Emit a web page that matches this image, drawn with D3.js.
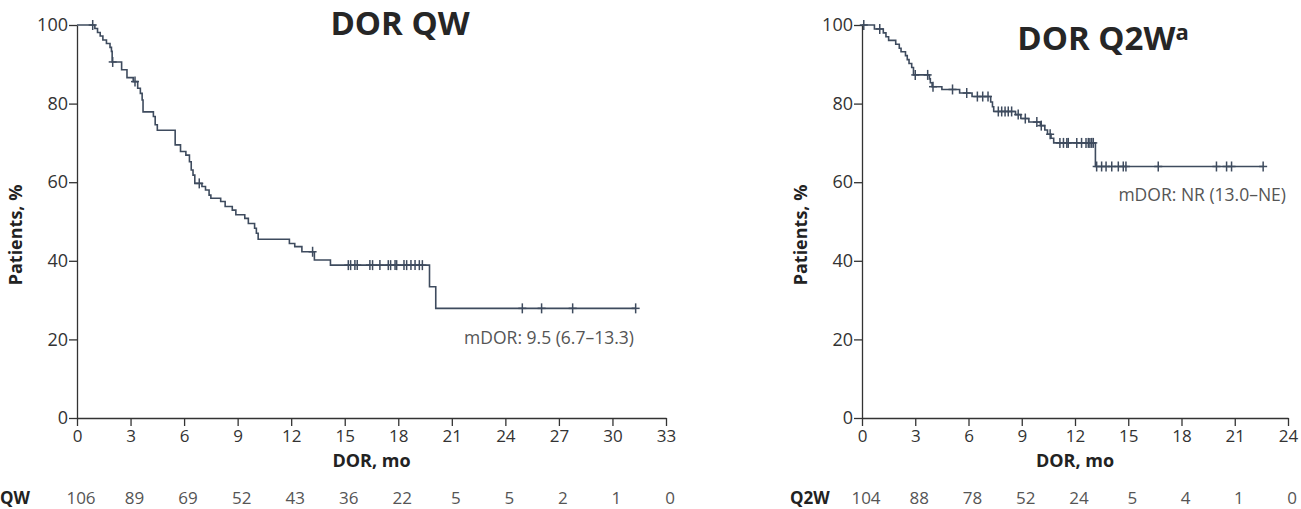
<!DOCTYPE html>
<html>
<head>
<meta charset="utf-8">
<script src="https://d3js.org/d3.v7.min.js"></script>
<style>
  body { margin: 0; background: #fff; }
  text { font-family: "Open Sans", "Noto Sans", sans-serif; }
</style>
</head>
<body>
<svg id="chart" width="1301" height="509"></svg>
<script>
// ---- QW arm ----
var qwTitle = "DOR QW";
var qwXTicks = [0, 3, 6, 9, 12, 15, 18, 21, 24, 27, 30, 33];
var qwAtRisk = [106, 89, 69, 52, 43, 36, 22, 5, 5, 2, 1, 0];
// step times (mo) and survival (%) after each step
var qwEventT = [1.0, 1.15, 1.3, 1.45, 1.65, 1.85, 1.93, 1.97, 2.5, 2.8, 3.15, 3.4, 3.55, 3.65, 3.7,
  4.28, 4.38, 4.5, 5.5, 5.8, 6.1, 6.3, 6.4, 6.5, 6.6, 7.0, 7.2, 7.4, 7.5, 8.05, 8.3, 8.7, 8.9,
  9.4, 9.6, 9.95, 10.05, 10.15, 11.9, 12.2, 12.6, 13.3, 14.2, 19.75, 20.1];
var qwEventS = [99.1, 98.1, 97.2, 96.2, 95.3, 94.3, 93.3, 90.6, 88.6, 86.6, 85.6, 83.9, 82.6, 80.9,
  77.9, 76.7, 74.6, 73.2, 69.5, 67.8, 66.9, 65.2, 63.1, 61.8, 59.7, 58.9, 58.0, 56.7, 55.9,
  55.1, 53.8, 52.9, 51.7, 50.8, 49.5, 48.3, 47.0, 45.5, 44.4, 43.6, 42.3, 40.2, 38.9, 33.4, 27.9];
var qwCensor = [0.88, 2.0, 3.25, 6.85, 13.2, 15.2, 15.33, 15.57, 15.7, 16.41, 16.56, 16.97, 17.44,
  17.57, 17.82, 17.91, 18.32, 18.47, 18.71, 18.94, 19.18, 19.35, 24.95, 26.03, 27.77, 31.3];
var qwNote = "mDOR: 9.5 (6.7\u201313.3)";

// ---- Q2W arm ----
var q2wTitle = "DOR Q2W";
var q2wXTicks = [0, 3, 6, 9, 12, 15, 18, 21, 24];
var q2wAtRisk = [104, 88, 78, 52, 24, 5, 4, 1, 0];
var q2wEventT = [0.7, 1.2, 1.35, 1.5, 1.9, 2.1, 2.2, 2.45, 2.55, 2.65, 2.8, 2.9, 3.8, 3.85, 3.95,
  4.5, 5.5, 6.2, 7.25, 7.35, 7.42, 8.65, 8.95, 9.4, 10.05, 10.3, 10.45, 10.65, 10.8, 13.15];
var q2wEventS = [99.0, 98.0, 97.0, 96.1, 95.1, 94.1, 93.2, 92.2, 91.2, 90.2, 89.2, 87.3, 86.3,
  85.3, 84.3, 83.6, 82.7, 81.8, 80.4, 79.2, 78.0, 77.2, 76.2, 75.3, 74.4, 73.3, 72.2, 71.2, 70.0, 64.0];
var q2wCensor = [0.1, 1.0, 3.0, 3.7, 4.0, 5.1, 5.9, 6.5, 6.8, 7.1, 7.68, 7.87, 8.06, 8.24, 8.43,
  8.8, 9.2, 9.85, 10.1, 10.6, 11.15, 11.35, 11.54, 11.62, 12.1, 12.37, 12.62, 12.75, 12.84,
  12.94, 13.03, 13.22, 13.5, 13.75, 14.07, 14.44, 14.72, 14.87, 16.69, 19.97, 20.54, 20.82, 22.6];
var q2wNote = "mDOR: NR (13.0\u2013NE)";

var yTicks = [0, 20, 40, 60, 80, 100];
var lineColor = "#3e4b5e";

var svg = d3.select("#chart");

function drawPanel(o) {
  var x = d3.scaleLinear().domain(o.xDomain).range([o.left, o.right]);
  var y = d3.scaleLinear().domain([0, 100]).range([418, 25]);
  var g = svg.append("g");

  // axes
  g.append("g")
      .attr("transform", "translate(0,418)")
      .call(d3.axisBottom(x).tickValues(o.xTicks).tickSize(8).tickSizeOuter(0))
      .call(a => a.selectAll("text").attr("font-size", 17).attr("fill", "#333").attr("dy", "0.75em"));
  g.append("g")
      .attr("transform", "translate(" + o.left + ",0)")
      .call(d3.axisLeft(y).tickValues(yTicks).tickSize(8).tickSizeOuter(0))
      .call(a => a.selectAll("text").attr("font-size", 18).attr("fill", "#333").attr("x", -9));
  g.selectAll(".domain, .tick line").attr("stroke", "#333").attr("stroke-width", 1.3);

  // KM step line
  var pts = [[0, 100]];
  o.eventT.forEach((t, i) => pts.push([t, o.eventS[i]]));
  var lastT = d3.max(o.censor);
  pts.push([lastT, o.eventS[o.eventS.length - 1]]);
  var line = d3.line().curve(d3.curveStepAfter).x(d => x(d[0])).y(d => y(d[1]));
  g.append("path")
      .attr("d", line(pts))
      .attr("fill", "none")
      .attr("stroke", lineColor)
      .attr("stroke-width", 1.6);

  // censor marks
  function survAt(t) {
    var s = 100;
    o.eventT.forEach((et, i) => { if (et <= t) s = o.eventS[i]; });
    return s;
  }
  var cm = g.selectAll(".cens").data(o.censor).enter().append("g")
      .attr("transform", d => "translate(" + x(d) + "," + y(survAt(d)) + ")");
  cm.append("line").attr("y1", -5).attr("y2", 5);
  cm.append("line").attr("x1", -4).attr("x2", 4);
  cm.selectAll("line").attr("stroke", lineColor).attr("stroke-width", 1.5);

  // titles and labels
  var title = g.append("text")
      .attr("x", o.titleX).attr("y", o.titleY)
      .attr("text-anchor", "middle")
      .attr("font-size", 33).attr("font-weight", 700).attr("fill", "#262626")
      .text(o.title);
  if (o.sup) title.append("tspan").attr("font-size", 22).attr("dy", -10).text(o.sup);

  g.append("text")
      .attr("transform", "translate(" + o.yLabelX + ",235) rotate(-90)")
      .attr("text-anchor", "middle")
      .attr("font-size", 18).attr("font-weight", 700).attr("fill", "#222")
      .text("Patients, %");

  g.append("text")
      .attr("x", (o.left + o.right) / 2).attr("y", 467)
      .attr("text-anchor", "middle")
      .attr("font-size", 18).attr("font-weight", 700).attr("fill", "#222")
      .text("DOR, mo");

  g.append("text")
      .attr("x", o.noteX).attr("y", o.noteY)
      .attr("text-anchor", "end")
      .attr("font-size", 17.5).attr("fill", "#555")
      .text(o.note);

  // numbers at risk
  g.append("text")
      .attr("x", o.armX).attr("y", 504)
      .attr("font-size", 17).attr("font-weight", 700).attr("fill", "#222")
      .text(o.arm);
  g.selectAll(".risk").data(o.atRisk).enter().append("text")
      .attr("x", (d, i) => x(o.xTicks[i]) + 4)
      .attr("y", 504)
      .attr("text-anchor", "middle")
      .attr("font-size", 17).attr("fill", "#555")
      .text(d => d);
}

drawPanel({
  xDomain: [0, 33], left: 77, right: 666, xTicks: qwXTicks,
  eventT: qwEventT, eventS: qwEventS, censor: qwCensor,
  title: qwTitle, titleX: 400, titleY: 35,
  yLabelX: 22, note: qwNote, noteX: 634, noteY: 344,
  arm: "QW", armX: 0, atRisk: qwAtRisk
});

drawPanel({
  xDomain: [0, 24], left: 862, right: 1288, xTicks: q2wXTicks,
  eventT: q2wEventT, eventS: q2wEventS, censor: q2wCensor,
  title: q2wTitle, sup: "a", titleX: 1103, titleY: 50,
  yLabelX: 807, note: q2wNote, noteX: 1286, noteY: 201,
  arm: "Q2W", armX: 790, atRisk: q2wAtRisk
});
</script>
</body>
</html>
